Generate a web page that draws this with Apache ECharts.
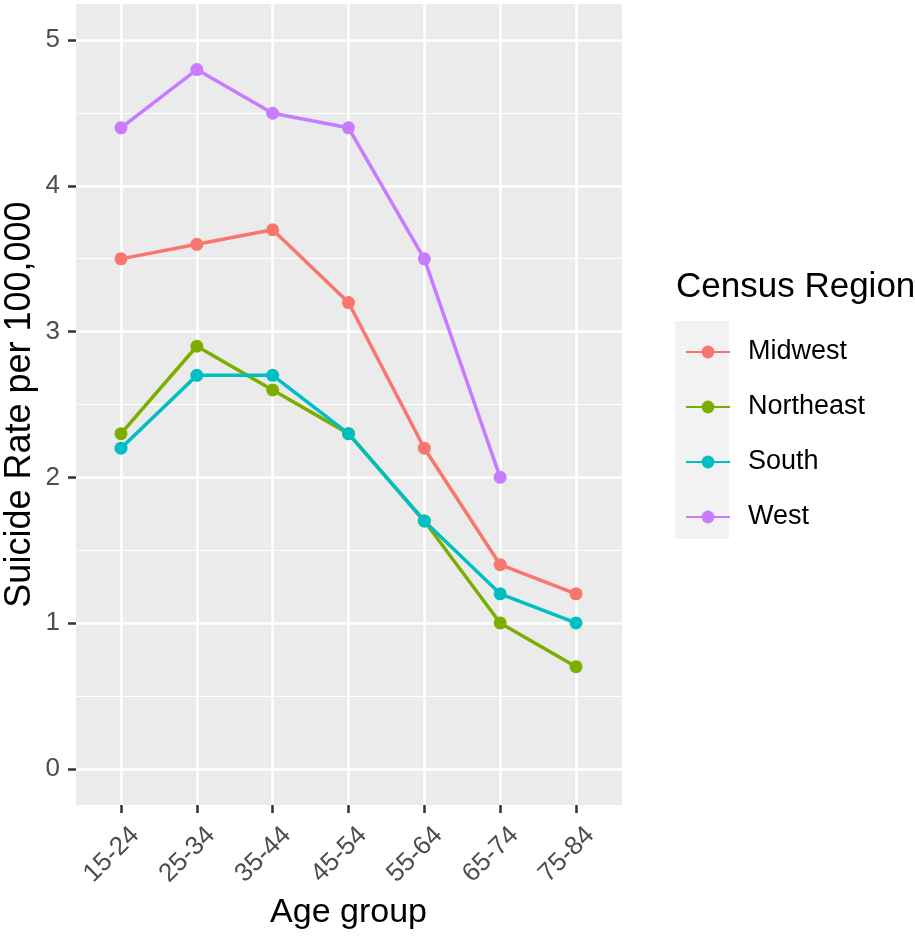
<!DOCTYPE html>
<html>
<head>
<meta charset="utf-8">
<script src="https://cdn.jsdelivr.net/npm/echarts@6/dist/echarts.min.js"></script>
<style>html,body{margin:0;padding:0;background:#fff}#c{width:915px;height:941px}</style>
</head>
<body>
<div id="c"></div>
<script>
var categories = ['15-24','25-34','35-44','45-54','55-64','65-74','75-84'];
var seriesNames = ['Midwest','Northeast','South','West'];
var midwest   = [3.5, 3.6, 3.7, 3.2, 2.2, 1.4, 1.2];
var northeast = [2.3, 2.9, 2.6, 2.3, 1.7, 1.0, 0.7];
var south     = [2.2, 2.7, 2.7, 2.3, 1.7, 1.2, 1.0];
var west      = [4.4, 4.8, 4.5, 4.4, 3.5, 2.0, null];
var colors = ['#F8766D','#7CAE00','#00BFC4','#C77CFF'];
var yTicks = [0,1,2,3,4,5];

var FONT = 'Liberation Sans, Arial, sans-serif';
var chart = echarts.init(document.getElementById('c'), null, {renderer:'canvas'});
var values = [midwest, northeast, south, west];

var option = {
  animation: false,
  backgroundColor: '#ffffff',
  textStyle: {fontFamily: FONT},
  grid: [
    {left: 76, top: 4, width: 546, height: 801, show: true, backgroundColor: '#EBEBEB', borderWidth: 0, containLabel: false, outerBoundsMode: 'none'},
    {left: 76, top: 40, width: 546, height: 729, show: false, containLabel: false, outerBoundsMode: 'none'},
    {left: 121, top: 4, width: 455, height: 801, show: false, containLabel: false, outerBoundsMode: 'none'}
  ],
  xAxis: [
    {gridIndex: 0, type: 'value', min: 0, max: 1, show: false},
    {gridIndex: 1, type: 'value', min: 0, max: 1, show: false},
    {gridIndex: 2, type: 'category', data: categories, boundaryGap: false, position: 'bottom',
      axisLine: {show: false, onZero: false},
      axisTick: {show: true, length: 8, lineStyle: {color: '#333333', width: 2.5}},
      axisLabel: {rotate: 45, fontSize: 26, color: '#4D4D4D', margin: 12, verticalAlign: 'top', lineHeight: 40, fontFamily: FONT},
      splitLine: {show: true, lineStyle: {color: '#ffffff', width: 2.5}},
      name: 'Age group', nameLocation: 'middle', nameGap: 91, nameMoveOverlap: false,
      nameTextStyle: {fontSize: 34, color: '#000000', fontFamily: FONT}
    }
  ],
  yAxis: [
    {gridIndex: 0, type: 'value', min: 0, max: 1, show: false},
    {gridIndex: 1, type: 'value', min: 0, max: 5, interval: 1,
      axisLine: {show: false, onZero: false},
      axisTick: {show: true, length: 8, lineStyle: {color: '#333333', width: 2.5}},
      axisLabel: {fontSize: 26, color: '#4D4D4D', margin: 16, fontFamily: FONT,
        formatter: function(v){ return yTicks.indexOf(v) >= 0 ? String(v) : ''; }},
      splitLine: {show: true, lineStyle: {color: '#ffffff', width: 2.5}},
      minorTick: {show: false, splitNumber: 2},
      minorSplitLine: {show: true, lineStyle: {color: '#ffffff', width: 1.2}},
      name: 'Suicide Rate per 100,000', nameLocation: 'middle', nameRotate: 90, nameGap: 38, nameMoveOverlap: false,
      nameTextStyle: {fontSize: 36, color: '#000000', fontFamily: FONT}
    },
    {gridIndex: 2, type: 'value', min: -0.25, max: 5.25, show: false}
  ],
  legend: {
    orient: 'vertical', left: 680, top: 332,
    itemWidth: 44, itemHeight: 16, itemGap: 25,
    data: seriesNames,
    textStyle: {fontSize: 27, color: '#000000', lineHeight: 30, padding: [0,0,0,13], fontFamily: FONT}
  },
  graphic: [
    {type: 'rect', z: -1, shape: {x: 675, y: 321, width: 54, height: 218}, style: {fill: '#F2F2F2'}},
    {type: 'text', x: 676, y: 287, style: {text: 'Census Region', font: '35px ' + FONT, fill: '#000000', textVerticalAlign: 'middle'}}
  ],
  series: seriesNames.map(function(name, i){
    return {
      name: name, type: 'line', xAxisIndex: 2, yAxisIndex: 2,
      data: values[i], color: colors[i],
      symbol: 'circle', symbolSize: 13, showSymbol: true,
      lineStyle: {width: 3.5, color: colors[i]},
      itemStyle: {color: colors[i]},
      connectNulls: false
    };
  })
};
chart.setOption(option);
</script>
</body>
</html>
